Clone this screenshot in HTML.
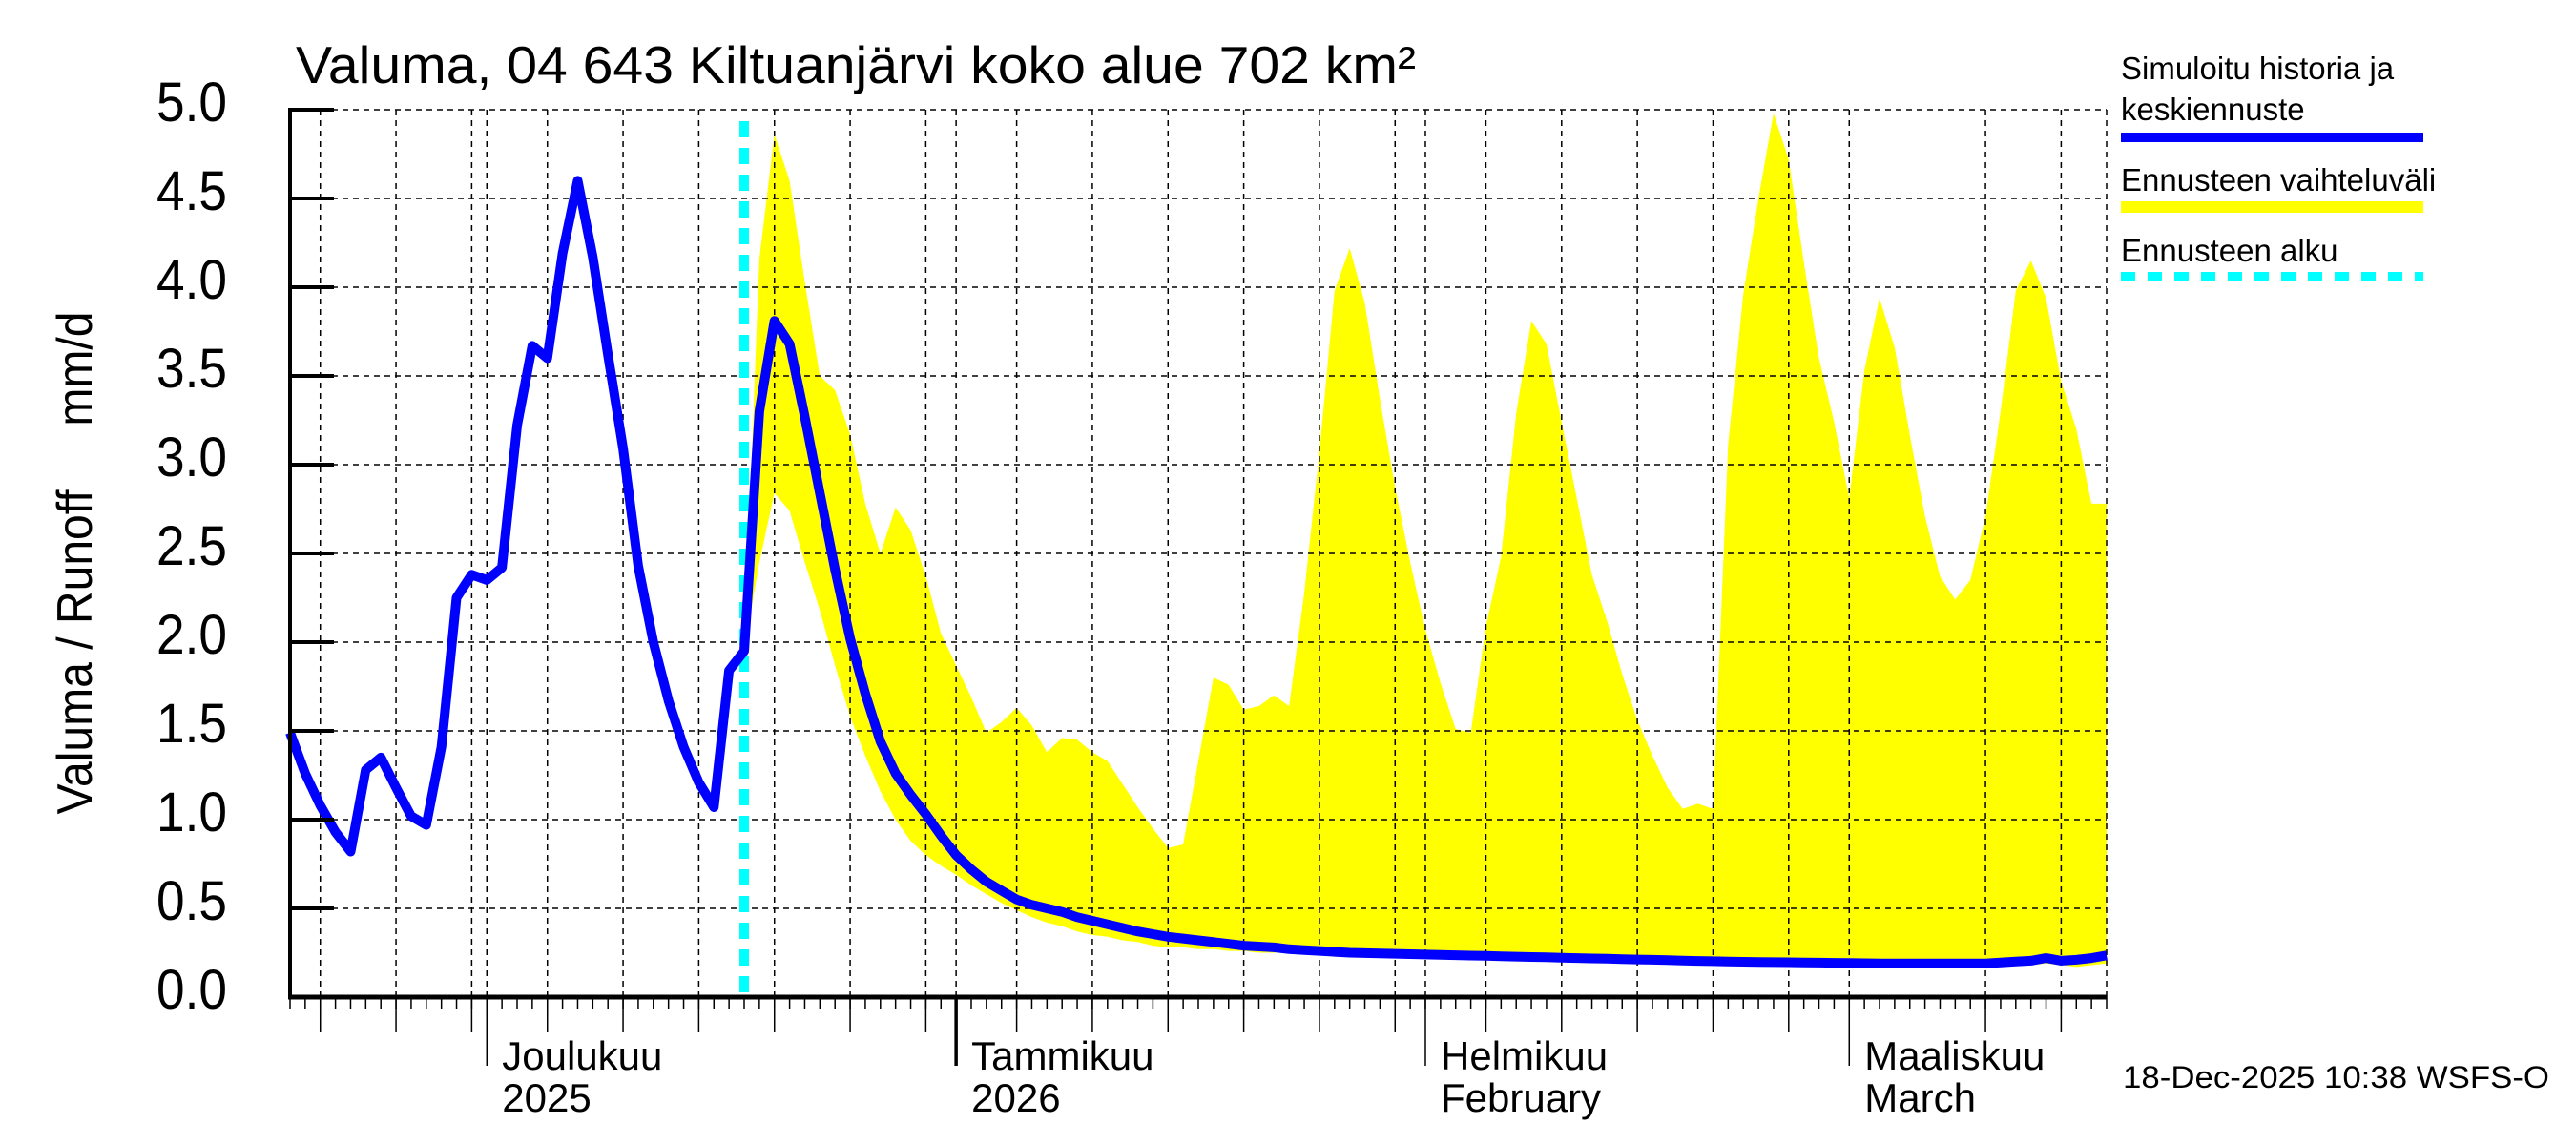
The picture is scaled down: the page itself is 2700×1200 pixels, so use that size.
<!DOCTYPE html>
<html><head><meta charset="utf-8"><style>
html,body{margin:0;padding:0;background:#fff;}
svg{display:block;font-family:"Liberation Sans",sans-serif;}
</style></head><body>
<svg id="chart" width="2700" height="1200" viewBox="0 0 2700 1200" xmlns="http://www.w3.org/2000/svg">
<rect width="2700" height="1200" fill="#fff"/>
<text x="310" y="87" font-size="55" textLength="1174" lengthAdjust="spacingAndGlyphs">Valuma, 04 643 Kiltuanjärvi koko alue 702 km²</text>
<text transform="translate(96,590) rotate(-90)" font-size="52" text-anchor="middle" textLength="527" lengthAdjust="spacingAndGlyphs">Valuma / Runoff&#160;&#160;&#160;&#160;&#160;mm/d</text>
<g id="band"></g>
<g id="grid"></g>
<g id="series"></g>
<g id="axes"></g>
<g>
<text x="2223" y="83" font-size="33">Simuloitu historia ja</text>
<text x="2223" y="126" font-size="33">keskiennuste</text>
<rect x="2223" y="139" width="317" height="10" fill="#0000ff"/>
<text x="2223" y="200" font-size="33">Ennusteen vaihteluväli</text>
<rect x="2223" y="211" width="317" height="12" fill="#ffff00"/>
<text x="2223" y="274" font-size="33">Ennusteen alku</text>
<line x1="2223" y1="290" x2="2540" y2="290" stroke="#00ffff" stroke-width="10" stroke-dasharray="15,13"/>
</g>
<text x="2225" y="1140" font-size="32" textLength="447" lengthAdjust="spacingAndGlyphs">18-Dec-2025 10:38 WSFS-O</text>
</svg>
<script>
// Day index 0 = 18 Nov 2025
const simulated = [1.49,1.26,1.08,0.93,0.82,1.28,1.35,1.18,1.02,0.97,1.41,2.25,2.38,2.35,2.42,3.22,3.67,3.60,4.19,4.60,4.17,3.62,3.09,2.43,2.00,1.67,1.41,1.21,1.07,1.84,1.95,3.30,3.81,3.68,3.27,2.84,2.41,2.02,1.71,1.44,1.26,1.14,1.03,0.91,0.80,0.72,0.65,0.60,0.55,0.52,0.50,0.48,0.45,0.43,0.41,0.39,0.37,0.355,0.34,0.33,0.32,0.31,0.30,0.29,0.285,0.28,0.27,0.265,0.26,0.255,0.25,0.248,0.246,0.244,0.242,0.24,0.238,0.236,0.234,0.232,0.23,0.228,0.226,0.224,0.222,0.22,0.218,0.216,0.214,0.212,0.21,0.208,0.206,0.204,0.202,0.20,0.199,0.198,0.197,0.196,0.195,0.194,0.193,0.192,0.191,0.19,0.19,0.19,0.19,0.19,0.19,0.19,0.19,0.195,0.20,0.205,0.22,0.205,0.21,0.22,0.235];
const bandStartDay = 30;
const bandUpper = [1.95,4.16,4.86,4.60,4.03,3.50,3.42,3.17,2.78,2.50,2.76,2.63,2.37,2.05,1.87,1.69,1.49,1.55,1.63,1.53,1.38,1.46,1.45,1.38,1.33,1.20,1.07,0.95,0.84,0.86,1.33,1.80,1.76,1.62,1.64,1.70,1.64,2.28,3.07,3.98,4.22,3.91,3.37,2.87,2.45,2.07,1.77,1.51,1.49,2.09,2.48,3.29,3.81,3.68,3.24,2.81,2.38,2.12,1.82,1.56,1.36,1.18,1.06,1.09,1.06,3.11,3.96,4.50,4.98,4.72,4.14,3.60,3.24,2.81,3.53,3.94,3.66,3.17,2.71,2.37,2.24,2.35,2.71,3.30,3.98,4.15,3.94,3.47,3.20,2.78,2.78];
const bandLower = [1.95,2.45,2.84,2.74,2.45,2.18,1.87,1.58,1.36,1.16,1.00,0.88,0.80,0.74,0.69,0.63,0.58,0.53,0.49,0.45,0.42,0.40,0.37,0.35,0.34,0.32,0.31,0.29,0.28,0.28,0.27,0.27,0.26,0.26,0.25,0.25,0.25,0.24,0.24,0.24,0.23,0.23,0.23,0.23,0.22,0.22,0.22,0.22,0.22,0.21,0.21,0.21,0.21,0.21,0.21,0.20,0.20,0.20,0.20,0.20,0.20,0.20,0.19,0.19,0.19,0.19,0.19,0.19,0.19,0.19,0.19,0.18,0.18,0.18,0.18,0.18,0.18,0.18,0.18,0.18,0.18,0.18,0.18,0.18,0.18,0.18,0.19,0.18,0.17,0.18,0.19];
const forecastStartDay = 30;
const yTicks = [0,0.5,1,1.5,2,2.5,3,3.5,4,4.5,5];
const yTickLabels = ["0.0","0.5","1.0","1.5","2.0","2.5","3.0","3.5","4.0","4.5","5.0"];
const gridDays = [2,7,12,17,22,27,32,37,42,48,53,58,63,68,73,79,84,89,94,99,112,117];
const monthDays = [13,44,75,103];
const monthLabels = ["Joulukuu","Tammikuu","Helmikuu","Maaliskuu"];
const monthLabels2 = ["2025","2026","February","March"];

const NS = "http://www.w3.org/2000/svg";
const X0 = 304, X1 = 2208, Y0 = 1045, Y5 = 115, NDAYS = 120;
function xs(d){ return X0 + d * (X1 - X0) / NDAYS; }
function ys(v){ return Y0 - v * (Y0 - Y5) / 5; }
function mk(tag, attrs, parent){
  const e = document.createElementNS(NS, tag);
  for (const k in attrs) e.setAttribute(k, attrs[k]);
  parent.appendChild(e);
  return e;
}
const gBand = document.getElementById('band');
const gGrid = document.getElementById('grid');
const gSer = document.getElementById('series');
const gAx = document.getElementById('axes');

let pts = [];
bandUpper.forEach((v,i)=>pts.push(xs(bandStartDay+i).toFixed(1)+','+ys(v).toFixed(1)));
for (let i=bandLower.length-1;i>=0;i--) pts.push(xs(bandStartDay+i).toFixed(1)+','+ys(bandLower[i]).toFixed(1));
const poly = mk('polygon',{points:pts.join(' '),fill:'#ffff00',stroke:'none'},gBand);



yTicks.forEach((v,i)=>{
  if (v===0) return;
  const l = mk('line',{x1:X0,x2:X1,y1:ys(v),y2:ys(v),stroke:'#000','stroke-width':1.5,'stroke-dasharray':'6,5'},gGrid);
  
  
});
gridDays.concat(monthDays).concat([NDAYS]).forEach(d=>{
  const l = mk('line',{x1:xs(d),x2:xs(d),y1:Y5,y2:Y0,stroke:'#000','stroke-width':1.5,'stroke-dasharray':'6,5'},gGrid);
  
  
});

const fl = mk('line',{x1:xs(forecastStartDay),x2:xs(forecastStartDay),y1:127,y2:Y0,stroke:'#00ffff','stroke-width':10,'stroke-dasharray':'17,11'},gSer);



const sp = simulated.map((v,i)=>xs(i).toFixed(1)+','+ys(v).toFixed(1)).join(' ');
const sl = mk('polyline',{points:sp,fill:'none',stroke:'#0000ff','stroke-width':10,'stroke-linejoin':'round'},gSer);



const ya = mk('line',{x1:X0,x2:X0,y1:Y5-2,y2:Y0+2,stroke:'#000','stroke-width':4},gAx);


const xa = mk('line',{x1:X0-2,x2:X1,y1:Y0,y2:Y0,stroke:'#000','stroke-width':5},gAx);


yTicks.forEach((v,i)=>{
  const t = mk('line',{x1:X0,x2:X0+46,y1:ys(v),y2:ys(v),stroke:'#000','stroke-width':4},gAx);
  
  
  const tx = mk('text',{x:164,y:ys(v)+12,'font-size':58,textLength:74,lengthAdjust:'spacingAndGlyphs'},gAx);
  tx.textContent = yTickLabels[i];
  
  
});
for (let d=0; d<=NDAYS; d++){
  const t = mk('line',{x1:xs(d),x2:xs(d),y1:Y0,y2:1057,stroke:'#000','stroke-width':1.5},gAx);
  
  
}
gridDays.forEach(d=>{
  const t = mk('line',{x1:xs(d),x2:xs(d),y1:Y0,y2:1082,stroke:'#000','stroke-width':1.5},gAx);
  
  
});
monthDays.forEach((d,i)=>{
  const t = mk('line',{x1:xs(d),x2:xs(d),y1:Y0,y2:1117,stroke:'#000','stroke-width':(i===1?3.5:1.5)},gAx);
  
  
  const a = mk('text',{x:xs(d)+16,y:1121,'font-size':42},gAx);
  a.textContent = monthLabels[i];
  
  
  const b = mk('text',{x:xs(d)+16,y:1165,'font-size':42},gAx);
  b.textContent = monthLabels2[i];
  
  
});
</script>
</body></html>
